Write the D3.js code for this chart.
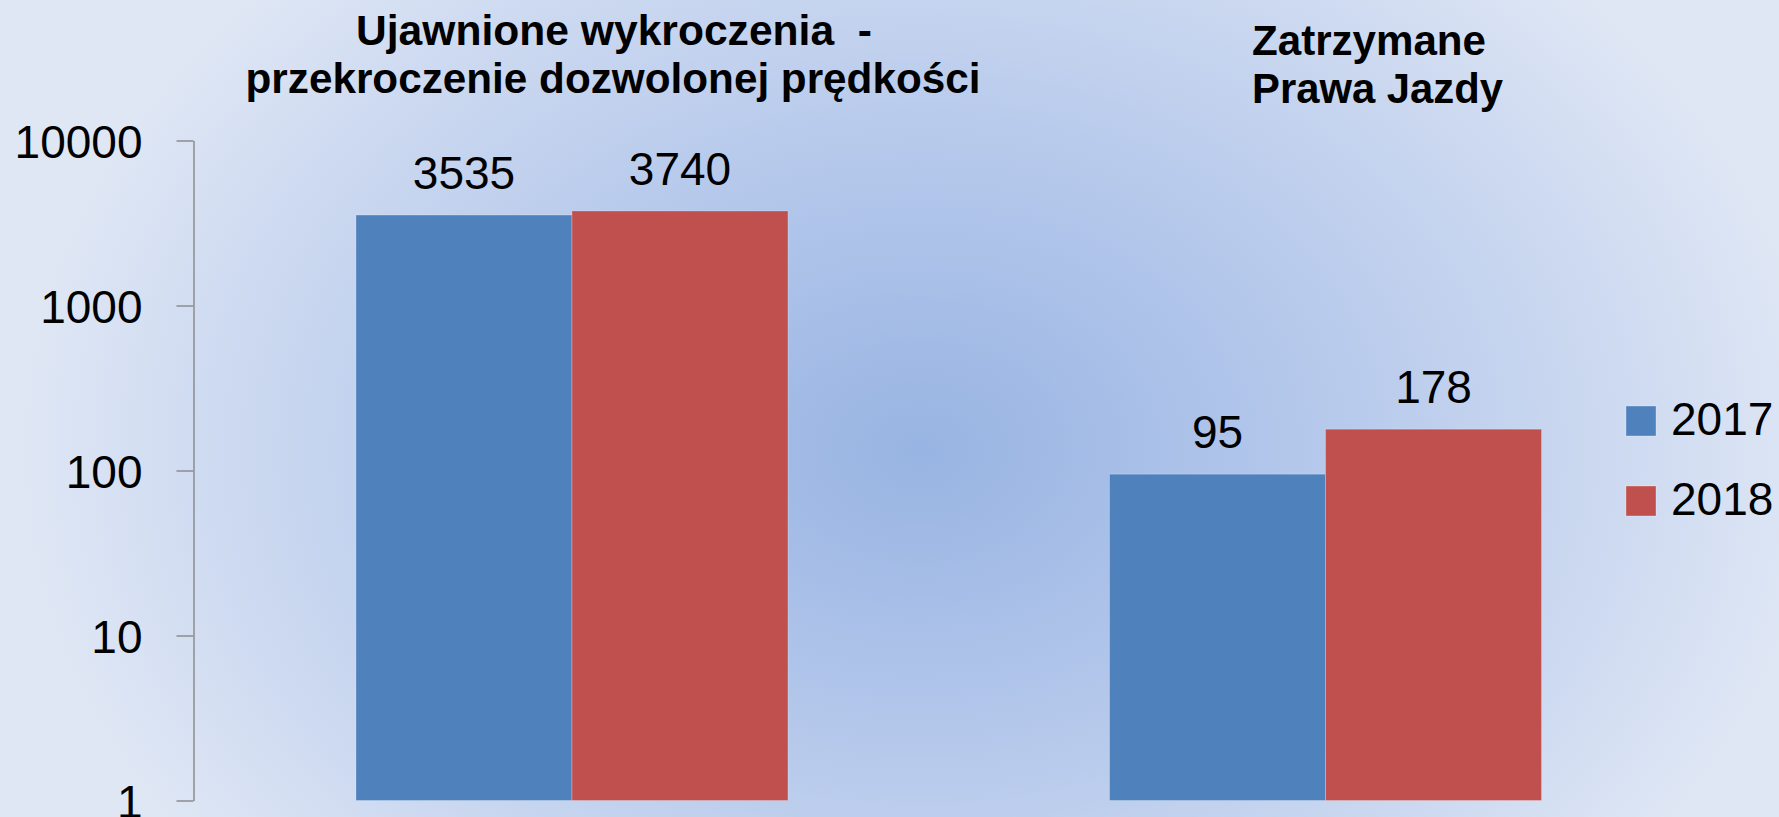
<!DOCTYPE html>
<html>
<head>
<meta charset="utf-8">
<script src="https://cdn.jsdelivr.net/npm/d3@7"></script>
<style>
  html, body { margin: 0; padding: 0; overflow: hidden; }
  svg { display: block; }
  text { white-space: pre; }
</style>
</head>
<body>
<div id="chart"></div>
<script>
// ── Data ──
const categories = ['Ujawnione wykroczenia - przekroczenie dozwolonej prędkości', 'Zatrzymane Prawa Jazdy'];
const series = ['2017', '2018'];
const values2017 = [3535, 95];
const values2018 = [3740, 178];
const yTicks = [1, 10, 100, 1000, 10000];

const COLORS = { '2017': '#4F81BD', '2018': '#C0504D' };

const width = 1779, height = 817;
const NUM_FONT = '"Liberation Sans", Arial, sans-serif';

const svg = d3.select('#chart')
  .append('svg')
  .attr('width', width)
  .attr('height', height);

// Background gradient (light centre-blue, paler edges)
const defs = svg.append('defs');
const grad = defs.append('radialGradient')
  .attr('id', 'bg')
  .attr('gradientUnits', 'userSpaceOnUse')
  .attr('cx', 920).attr('cy', 450).attr('r', 900)
  .attr('gradientTransform', 'translate(920,450) scale(1,0.75) translate(-920,-450)');
grad.append('stop').attr('offset', '0%').attr('stop-color', '#98b4e2');
grad.append('stop').attr('offset', '35%').attr('stop-color', '#afc4ea');
grad.append('stop').attr('offset', '75%').attr('stop-color', '#cbd8f0');
grad.append('stop').attr('offset', '100%').attr('stop-color', '#dfe7f5');

svg.append('rect')
  .attr('width', width).attr('height', height)
  .attr('fill', 'url(#bg)');

// ── Scales ──
const y = d3.scaleLog().domain([1, 10000]).range([800.5, 140.5]);

const x0 = d3.scaleBand()
  .domain(categories)
  .range([195.25, 1702.25])
  .paddingInner(0.4267)
  .paddingOuter(0.2133);

const x1 = d3.scaleBand()
  .domain(series)
  .range([0, x0.bandwidth()]);

const rows = categories.map((c, i) => ({
  cat: c,
  vals: [
    { key: '2017', value: values2017[i] },
    { key: '2018', value: values2018[i] },
  ],
}));

// ── Axis ──
const axis = svg.append('g')
  .attr('transform', 'translate(193.5,0)')
  .call(d3.axisLeft(y).tickValues(yTicks).tickFormat(d3.format('d')).tickSize(17).tickSizeOuter(0).tickPadding(34));

axis.select('.domain').attr('stroke', '#8c8c8c').attr('stroke-width', 1.5);
axis.selectAll('.tick line').attr('stroke', '#8c8c8c').attr('stroke-width', 1.5);
axis.selectAll('.tick text')
  .attr('fill', '#000')
  .attr('font-family', NUM_FONT)
  .attr('font-size', '46px')
  .attr('dy', '0.36em');

// ── Bars ──
const group = svg.append('g')
  .selectAll('g')
  .data(rows)
  .join('g')
  .attr('transform', d => `translate(${x0(d.cat)},0)`);

group.selectAll('rect')
  .data(d => d.vals)
  .join('rect')
  .attr('x', d => x1(d.key))
  .attr('y', d => y(d.value))
  .attr('width', x1.bandwidth())
  .attr('height', d => y(1) - y(d.value))
  .attr('fill', d => COLORS[d.key])
  .attr('stroke', 'rgba(255,255,255,0.25)')
  .attr('stroke-width', 1);

// Value labels
group.selectAll('text.val')
  .data(d => d.vals)
  .join('text')
  .attr('class', 'val')
  .attr('x', d => x1(d.key) + x1.bandwidth() / 2)
  .attr('y', d => y(d.value) - 26)
  .attr('text-anchor', 'middle')
  .attr('font-family', NUM_FONT)
  .attr('font-size', '46px')
  .attr('fill', '#000')
  .text(d => d.value);

// ── Category titles (above the groups) ──
const TITLE_FONT = '"Liberation Sans", Arial, sans-serif';
const titles = [
  { text: 'Ujawnione wykroczenia  -', x: 614, y: 45, anchor: 'middle', len: 516 },
  { text: 'przekroczenie dozwolonej prędkości', x: 613, y: 93, anchor: 'middle', len: 735 },
  { text: 'Zatrzymane', x: 1252, y: 55, anchor: 'start', len: 234 },
  { text: 'Prawa Jazdy', x: 1252, y: 103, anchor: 'start', len: 251 },
];
svg.append('g')
  .selectAll('text')
  .data(titles)
  .join('text')
  .attr('x', d => d.x)
  .attr('y', d => d.y)
  .attr('text-anchor', d => d.anchor)
  .attr('font-family', TITLE_FONT)
  .attr('font-weight', 'bold')
  .attr('font-size', '42px')
  .attr('fill', '#000')
  .attr('textLength', d => d.len)
  .attr('lengthAdjust', 'spacingAndGlyphs')
  .text(d => d.text);

// ── Legend ──
const legend = svg.append('g')
  .attr('transform', 'translate(1626,406)');

const item = legend.selectAll('g')
  .data(series)
  .join('g')
  .attr('transform', (d, i) => `translate(0, ${i * 80})`);

item.append('rect')
  .attr('width', 30)
  .attr('height', 30)
  .attr('fill', d => COLORS[d])
  .attr('stroke', 'rgba(255,255,255,0.3)')
  .attr('stroke-width', 1);

item.append('text')
  .attr('x', 45)
  .attr('y', 29)
  .attr('font-family', NUM_FONT)
  .attr('font-size', '46px')
  .attr('fill', '#000')
  .text(d => d);
</script>
</body>
</html>
